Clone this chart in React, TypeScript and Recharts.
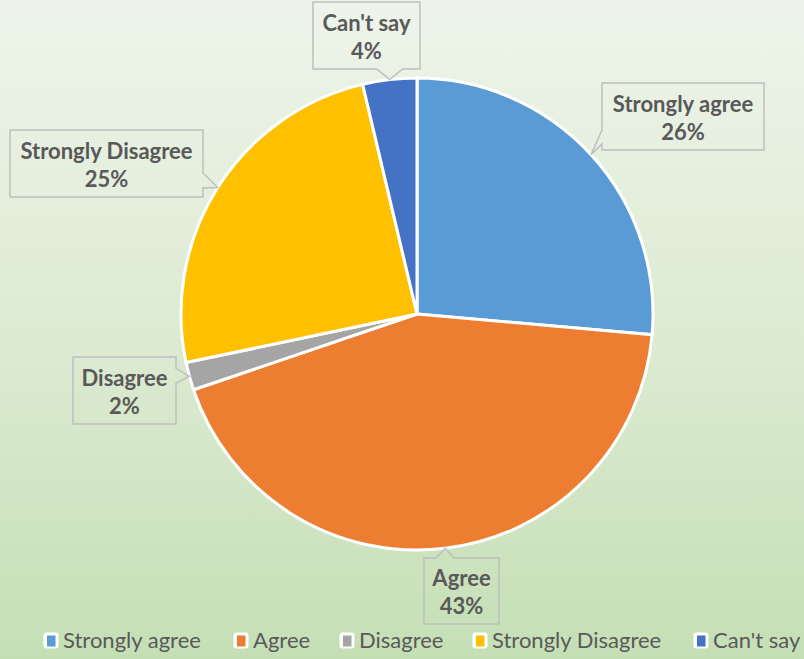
import React from 'react';
import { PieChart, Pie, Cell, Legend } from 'recharts';

const categories = ['Strongly agree', 'Agree', 'Disagree', 'Strongly Disagree', "Can't say"];
const shares = [26.4, 43.4, 1.9, 24.6, 3.7];
const colors = ['#5B9BD5', '#ED7D31', '#A5A5A5', '#FFC000', '#4472C4'];

const data = categories.map((name, i) => ({ name, value: shares[i] }));

// callout box layout relative to pie centre: dx, dy, w, h, side of pointer
const calloutLayout = [
  { dx: 185, dy: -231, w: 162, h: 67, side: 'left' },
  { dx: 7, dy: 244, w: 75, h: 66, side: 'top' },
  { dx: -344, dy: 43, w: 103, h: 67, side: 'right' },
  { dx: -407, dy: -184, w: 193, h: 67, side: 'right' },
  { dx: -104, dy: -312, w: 107, h: 67, side: 'bottom' },
];

// legend text start x positions
const legendTextX = [63, 253, 359, 492, 713];

const RAD = Math.PI / 180;
const clamp = (v: number, a: number, b: number) => Math.max(a, Math.min(b, v));
const FONT = "Lato, 'Open Sans', sans-serif";

const renderLabel = (props: any) => {
  const { cx, cy, midAngle, outerRadius, percent, index, name } = props;
  const L = calloutLayout[index];
  const tx = cx + outerRadius * Math.cos(-midAngle * RAD);
  const ty = cy + outerRadius * Math.sin(-midAngle * RAD);
  const x = cx + L.dx;
  const y = cy + L.dy;
  const w = L.w;
  const h = L.h;
  let d = '';
  if (L.side === 'bottom') {
    const bx = clamp(tx, x + 16, x + w - 16);
    d = `M${x},${y} L${x + w},${y} L${x + w},${y + h} L${bx + 13},${y + h} L${tx},${ty} L${bx - 13},${y + h} L${x},${y + h} Z`;
  } else if (L.side === 'top') {
    const bx = clamp(tx, x + 16, x + w - 16);
    d = `M${x},${y} L${bx - 9},${y} L${tx},${ty} L${bx + 9},${y} L${x + w},${y} L${x + w},${y + h} L${x},${y + h} Z`;
  } else if (L.side === 'left') {
    const by = clamp(ty, y + 10, y + h - 12);
    d = `M${x},${y} L${x + w},${y} L${x + w},${y + h} L${x},${y + h} L${x},${by + 6} L${tx},${ty} L${x},${by - 8} Z`;
  } else {
    const by = clamp(ty, y + 10, y + h - 16);
    d = `M${x},${y} L${x + w},${y} L${x + w},${by - 8} L${tx},${ty} L${x + w},${by + 7} L${x + w},${y + h} L${x},${y + h} Z`;
  }
  const pct = `${Math.round(percent * 100)}%`;
  return (
    <g key={`lbl-${index}`}>
      <path d={d} fill="none" stroke="#BFBFBF" strokeWidth={1.5} />
      <text
        x={x + w / 2}
        y={y + h * 0.3}
        textAnchor="middle"
        dominantBaseline="central"
        fill="#595959"
        fontFamily={FONT}
        fontWeight={700}
        fontSize={22}
      >
        {name}
      </text>
      <text
        x={x + w / 2}
        y={y + h * 0.72}
        textAnchor="middle"
        dominantBaseline="central"
        fill="#595959"
        fontFamily={FONT}
        fontWeight={700}
        fontSize={22}
      >
        {pct}
      </text>
    </g>
  );
};

const renderLegend = () => (
  <div style={{ position: 'relative', width: 804, height: 24 }}>
    {categories.map((c, i) => (
      <div
        key={c}
        style={{
          position: 'absolute',
          left: legendTextX[i] - 20,
          top: 0,
          display: 'flex',
          alignItems: 'center',
          whiteSpace: 'nowrap',
        }}
      >
        <svg width={16} height={17} style={{ display: 'block' }}>
          <rect x={0.5} y={0.5} width={15} height={16} rx={3} fill="#FFFFFF" />
          <rect x={4} y={3.5} width={8.5} height={11} fill={colors[i]} />
        </svg>
        <span
          style={{
            marginLeft: 4,
            fontFamily: FONT,
            fontSize: 22,
            color: '#595959',
            lineHeight: '24px',
          }}
        >
          {c}
        </span>
      </div>
    ))}
  </div>
);

export default function App() {
  return (
    <div
      style={{
        position: 'absolute',
        left: 0,
        top: 0,
        width: 804,
        height: 659,
        background: 'linear-gradient(to bottom, #EEF4EA 0%, #DDEBD3 50%, #C5DFB5 100%)',
        overflow: 'hidden',
      }}
    >
      <PieChart width={804} height={659} margin={{ top: 0, right: 0, bottom: 0, left: 0 }}>
        <Pie
          data={data}
          dataKey="value"
          nameKey="name"
          cx={417}
          cy={314}
          outerRadius={236}
          startAngle={90}
          endAngle={-270}
          stroke="#FFFFFF"
          strokeWidth={3}
          label={renderLabel}
          labelLine={false}
          isAnimationActive={false}
        >
          {data.map((d, i) => (
            <Cell key={d.name} fill={colors[i]} />
          ))}
        </Pie>
        <Legend
          content={renderLegend}
          wrapperStyle={{ position: 'absolute', left: 0, top: 628, width: 804, height: 24 }}
        />
      </PieChart>
    </div>
  );
}
